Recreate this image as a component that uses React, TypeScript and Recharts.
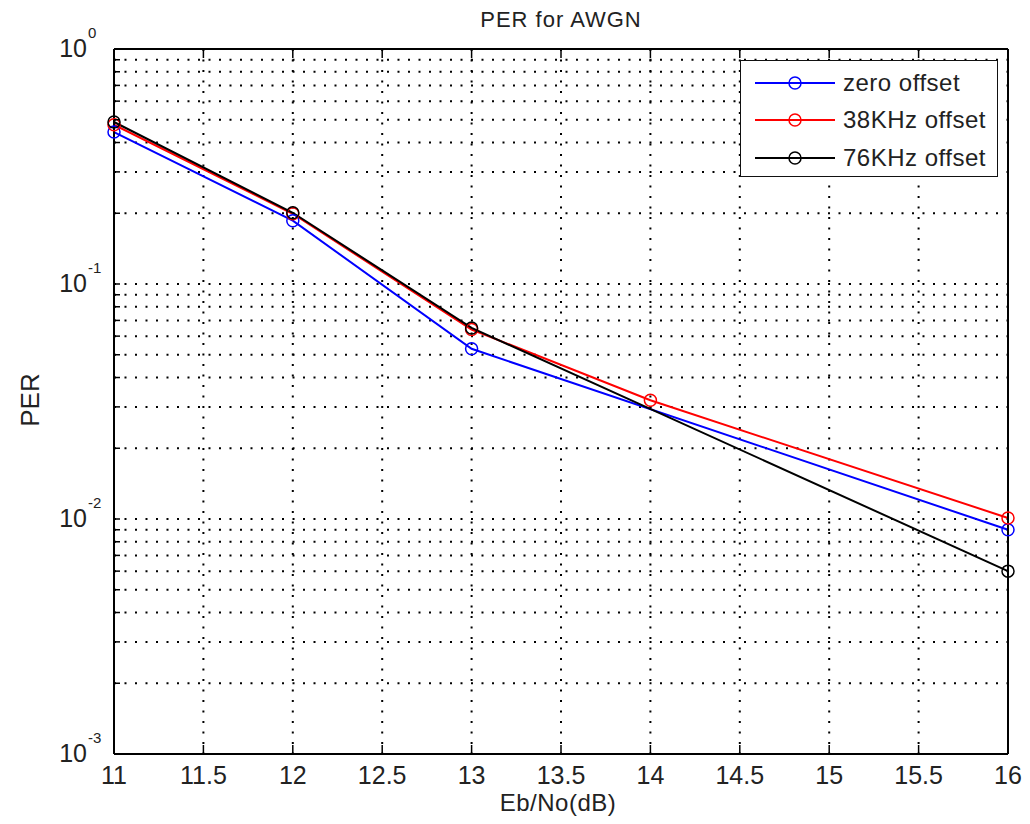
import { LineChart, Line, XAxis, YAxis, CartesianGrid, Legend } from 'recharts';

const ebno = [11, 12, 13, 14, 16];
const zeroOffset = [0.443, 0.186, 0.053, null, 0.009];
const offset38 = [0.476, 0.199, 0.064, 0.032, 0.0101];
const offset76 = [0.489, 0.201, 0.065, null, 0.006];

const seriesNames = ['zero offset', '38KHz offset', '76KHz offset'];

const xTicks = [11, 11.5, 12, 12.5, 13, 13.5, 14, 14.5, 15, 15.5, 16];
const yTicks = [
  0.001, 0.002, 0.003, 0.004, 0.005, 0.006, 0.007, 0.008, 0.009,
  0.01, 0.02, 0.03, 0.04, 0.05, 0.06, 0.07, 0.08, 0.09,
  0.1, 0.2, 0.3, 0.4, 0.5, 0.6, 0.7, 0.8, 0.9,
  1,
];
const yMajor = [0.001, 0.01, 0.1, 1];
const yExponents = ['-3', '-2', '-1', '0'];

const data = ebno.map((x, i) => ({
  x,
  zero: zeroOffset[i],
  k38: offset38[i],
  k76: offset76[i],
}));

const FONT = '"Liberation Sans", Arial, Helvetica, sans-serif';

const LeftTick = ({ x, y, payload }: any) => {
  const i = yMajor.indexOf(payload.value);
  return (
    <g>
      <line x1={x} x2={x + 6} y1={y} y2={y} stroke="#000" strokeWidth={1.5} />
      {i >= 0 && (
        <>
          <text x={x - 27} y={y + 8} textAnchor="end" fontSize={25} fontFamily={FONT} fill="#222">10</text>
          <text x={x - 26} y={y - 11} textAnchor="start" fontSize={15} fontFamily={FONT} fill="#222">{yExponents[i]}</text>
        </>
      )}
    </g>
  );
};

const RightTick = ({ x, y }: any) => (
  <line x1={x} x2={x - 6} y1={y} y2={y} stroke="#000" strokeWidth={1.5} />
);

const BottomTick = ({ x, y, payload }: any) => (
  <g>
    <line x1={x} x2={x} y1={y} y2={y - 9} stroke="#000" strokeWidth={1.5} />
    <text x={x} y={y + 30} textAnchor="middle" fontSize={25} fontFamily={FONT} fill="#222">
      {payload.value}
    </text>
  </g>
);

const TopTick = ({ x, y }: any) => (
  <line x1={x} x2={x} y1={y} y2={y + 9} stroke="#000" strokeWidth={1.5} />
);

const rowY = [22, 59, 97];

const renderLegend = (props: any) => {
  const items = [...(props.payload || [])].sort(
    (a: any, b: any) => seriesNames.indexOf(a.value) - seriesNames.indexOf(b.value),
  );
  return (
    <div style={{ width: 258, height: 117, border: '1.5px solid #111', background: '#fff', boxSizing: 'border-box' }}>
      <svg width={255} height={114} style={{ display: 'block' }}>
        {items.map((entry: any, i: number) => (
          <g key={entry.value}>
            <line x1={14} x2={94} y1={rowY[i]} y2={rowY[i]} stroke={entry.color} strokeWidth={2} />
            <circle cx={54} cy={rowY[i]} r={6} fill="none" stroke={entry.color} strokeWidth={1.5} />
            <text x={102} y={rowY[i] + 8} fontSize={24} fontFamily={FONT} fill="#222" letterSpacing={0.5}>
              {entry.value}
            </text>
          </g>
        ))}
      </svg>
    </div>
  );
};

export default function App() {
  return (
    <div style={{ position: 'relative', width: 1014, height: 808, background: '#fff' }}>
      <LineChart width={1014} height={808} data={data} margin={{ top: 40, right: 10, bottom: 32, left: 46 }}>
        <CartesianGrid
          xAxisId="bottom"
          yAxisId="left"
          stroke="#000"
          strokeWidth={2}
          strokeDasharray="2 8.5"
        />
        <XAxis
          xAxisId="bottom"
          dataKey="x"
          type="number"
          domain={[11, 16]}
          ticks={xTicks}
          interval={0}
          height={30}
          tickSize={0}
          tickMargin={0}
          tickLine={false}
          axisLine={{ stroke: '#000', strokeWidth: 2 }}
          tick={<BottomTick />}
        />
        <XAxis
          xAxisId="top"
          orientation="top"
          dataKey="x"
          type="number"
          domain={[11, 16]}
          ticks={xTicks}
          interval={0}
          height={1}
          tickSize={0}
          tickMargin={0}
          tickLine={false}
          axisLine={{ stroke: '#000', strokeWidth: 2 }}
          tick={<TopTick />}
        />
        <YAxis
          yAxisId="left"
          type="number"
          scale="log"
          domain={[0.001, 1]}
          ticks={yTicks}
          interval={0}
          width={60}
          tickSize={0}
          tickMargin={0}
          tickLine={false}
          axisLine={{ stroke: '#000', strokeWidth: 2 }}
          tick={<LeftTick />}
        />
        <YAxis
          yAxisId="right"
          orientation="right"
          type="number"
          scale="log"
          domain={[0.001, 1]}
          ticks={yTicks}
          interval={0}
          width={4}
          tickSize={0}
          tickMargin={0}
          tickLine={false}
          axisLine={{ stroke: '#000', strokeWidth: 2 }}
          tick={<RightTick />}
        />
        <Legend
          layout="vertical"
          align="center"
          verticalAlign="middle"
          content={renderLegend}
          wrapperStyle={{ left: 732, top: 52, width: 258, height: 117 }}
        />
        <Line
          xAxisId="bottom"
          yAxisId="left"
          name={seriesNames[0]}
          dataKey="zero"
          stroke="#0000ff"
          strokeWidth={2}
          connectNulls
          dot={{ r: 6, fill: 'none', stroke: '#0000ff', strokeWidth: 1.5 }}
          isAnimationActive={false}
        />
        <Line
          xAxisId="bottom"
          yAxisId="left"
          name={seriesNames[1]}
          dataKey="k38"
          stroke="#ff0000"
          strokeWidth={2}
          connectNulls
          dot={{ r: 6, fill: 'none', stroke: '#ff0000', strokeWidth: 1.5 }}
          isAnimationActive={false}
        />
        <Line
          xAxisId="bottom"
          yAxisId="left"
          name={seriesNames[2]}
          dataKey="k76"
          stroke="#000000"
          strokeWidth={2}
          connectNulls
          dot={{ r: 6, fill: 'none', stroke: '#000000', strokeWidth: 1.5 }}
          isAnimationActive={false}
        />
      </LineChart>
      <svg
        width={1014}
        height={808}
        style={{ position: 'absolute', left: 0, top: 0, pointerEvents: 'none', overflow: 'visible' }}
      >
        <text x={553} y={19} textAnchor="middle" fontSize={22} fontFamily={FONT} fill="#222" letterSpacing={1}>
          PER for AWGN
        </text>
        <text x={550} y={803} textAnchor="middle" fontSize={24} fontFamily={FONT} fill="#222" letterSpacing={0.5}>
          Eb/No(dB)
        </text>
        <text
          x={22}
          y={392}
          textAnchor="middle"
          fontSize={26}
          fontFamily={FONT}
          fill="#222"
          transform="rotate(-90 22 392)"
          dy={9}
        >
          PER
        </text>
      </svg>
    </div>
  );
}
